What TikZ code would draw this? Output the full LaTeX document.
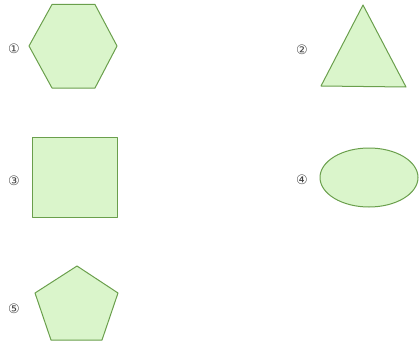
\documentclass[tikz,border=0pt]{standalone}
\usepackage{fontspec}
\newfontfamily\symfont{DejaVu Sans}
\definecolor{shapefill}{HTML}{DAF5CB}
\definecolor{shapeline}{HTML}{6A9F4C}
\definecolor{labelgray}{HTML}{444444}
\begin{document}
\begin{tikzpicture}[x=1pt,y=-1pt,
  shp/.style={draw=shapeline,fill=shapefill,line width=1pt,line join=round},
  lbl/.style={text=labelgray,font=\symfont\fontsize{13}{13}\selectfont,inner sep=0pt}]
\useasboundingbox (0,0) rectangle (419,342);
% hexagon
\draw[shp] (52,4.5) -- (95,4.5) -- (117,46) -- (95,88) -- (52,88) -- (29,46) -- cycle;
\node[lbl] (l1) at (14,49) {①};
% triangle
\draw[shp] (363,5) -- (406,87) -- (321,86) -- cycle;
\node[lbl] (l2) at (302,50) {②};
% square
\draw[shp] (32,137) rectangle (117,217);
\node[lbl] (l3) at (14,181) {③};
% ellipse
\draw[shp] (369,177.5) ellipse [x radius=49, y radius=29.5];
\node[lbl] (l4) at (302,180) {④};
% pentagon
\draw[shp] (77,266) -- (118,293) -- (102,340) -- (51,340) -- (35,293) -- cycle;
\node[lbl] (l5) at (14,309) {⑤};
\end{tikzpicture}
\end{document}
